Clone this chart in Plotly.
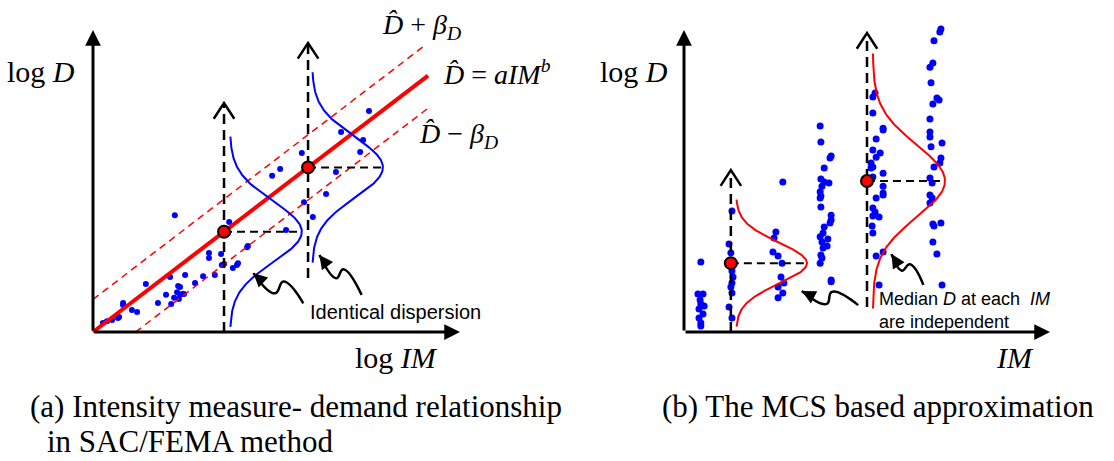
import numpy as np
import plotly.graph_objects as go

# ---------------- Panel (a): log IM – log D regression ----------------
a_pts_im = [0.27, 0.38, 0.52, 0.68, 0.71, 0.82, 0.82, 1.06, 1.20, 1.44, 1.77, 1.99,
            2.10, 2.23, 2.13, 2.21, 2.29, 2.32, 2.37, 2.37, 2.43, 2.48, 2.34, 2.51,
            2.78, 3.00, 3.16, 3.16, 3.32, 3.49, 3.51, 3.57, 3.71, 3.68, 3.81, 3.92,
            3.95, 4.22, 4.20, 4.88, 5.10, 5.26, 5.69, 5.75, 5.99, 6.35, 6.62, 6.76,
            7.28, 7.36, 7.52]
a_pts_d = [0.30, 0.36, 0.40, 0.46, 0.50, 0.96, 0.89, 0.73, 0.66, 1.59, 0.96, 1.23,
           1.82, 3.87, 0.93, 1.13, 1.32, 1.52, 1.49, 1.23, 1.26, 1.26, 1.09, 1.89,
           1.62, 1.85, 2.62, 2.45, 1.89, 2.58, 2.22, 2.25, 3.64, 3.28, 2.12, 2.22,
           2.28, 2.85, 2.81, 5.17, 5.40, 3.38, 5.93, 4.30, 3.81, 4.57, 5.30, 6.62,
           5.96, 6.36, 7.32]

a_slope = 0.93          # median line  log D = log a + b log IM
a_beta = 1.08           # dispersion band half-width
a_line_im = [0.0, 9.13]
a_upper_im = [0.0, 9.0]
a_lower_im = [1.16, 9.13]

a_stripe_im = [3.57, 5.86]       # IM levels where the distributions are drawn
a_stripe_bottom = [0.0, 1.79]
a_stripe_top = [7.58, 9.57]
a_hdash_end = [5.64, 7.87]
a_pdf_base = [3.73, 5.97]
a_pdf_peak = [1.96, 1.93]
a_pdf_sigma = [1.0, 1.0]
a_pdf_halfspan = [3.15, 3.15]

# wavy pointer paths (tail -> tip)
a_wave1_x = [5.73, 5.19, 4.96, 4.37]
a_wave1_y = [0.95, 1.67, 1.28, 1.95]
a_wave2_x = [7.32, 6.82, 6.63, 6.17]
a_wave2_y = [1.23, 2.08, 1.78, 2.55]

# ---------------- Panel (b): Monte Carlo samples per IM level ----------------
b_pts_im = [0.46, 0.38, 0.52, 0.44, 0.46, 0.55, 0.41, 0.52, 0.41, 0.46, 0.46,
            1.31, 1.23, 1.28, 1.31, 1.31, 1.34, 1.31, 1.28, 1.31, 1.23, 1.31,
            2.70, 2.51, 2.46, 2.43, 2.57, 2.68, 2.65, 2.73, 2.57, 2.70, 2.57,
            3.72, 3.74, 4.02, 3.99, 3.83, 3.74, 3.83, 3.96, 3.77, 3.72, 3.74, 3.72,
            3.74, 4.02, 4.02, 3.99, 3.83, 3.80, 3.72, 3.93, 3.77, 3.91, 3.80, 3.74,
            3.77, 3.72, 4.02, 4.02,
            5.22, 5.16, 5.16, 5.44, 5.44, 5.25, 5.16, 5.36, 5.25, 5.11, 5.16, 5.11,
            5.44, 5.16, 5.44, 5.44, 5.44, 5.25, 5.16, 5.22, 5.33, 5.16, 5.14, 5.16,
            5.44, 5.25, 5.33,
            7.02, 6.99, 6.83, 6.80, 6.72, 6.75, 6.91, 6.97, 6.80, 6.72, 6.72, 6.72,
            6.75, 7.05, 7.02, 6.99, 6.83, 6.72, 6.78, 6.72, 6.78, 6.72, 6.80, 7.02,
            6.83, 6.80, 6.91, 7.05]
b_pts_d = [2.32, 1.26, 1.26, 1.06, 0.93, 0.86, 0.76, 0.60, 0.46, 0.30, 0.20,
           4.01, 2.91, 2.62, 2.15, 2.02, 1.82, 1.62, 1.49, 1.29, 0.83, 0.46,
           4.97, 3.31, 3.11, 2.65, 2.52, 2.28, 1.82, 1.62, 1.49, 1.29, 1.13,
           6.82, 6.29, 5.83, 5.76, 5.43, 5.07, 4.97, 4.93, 4.83, 4.64, 4.50, 4.44,
           4.14, 3.87, 3.71, 3.61, 3.48, 3.28, 3.15, 3.08, 2.98, 2.85, 2.78, 2.55,
           2.45, 2.28, 1.72, 1.66,
           7.91, 7.78, 7.25, 6.75, 6.69, 6.39, 6.03, 5.93, 5.79, 5.60, 5.46, 5.43,
           5.26, 5.13, 4.83, 4.60, 4.54, 4.44, 4.11, 3.97, 3.81, 3.84, 3.51, 3.28,
           2.65, 2.52, 1.56,
           10.03, 9.93, 9.64, 8.91, 8.77, 8.25, 7.75, 7.68, 7.55, 7.05, 6.62, 6.46,
           6.13, 6.26, 5.76, 5.60, 5.46, 5.10, 4.93, 4.54, 4.44, 4.27, 3.58, 3.61,
           3.51, 2.98, 2.58, 1.56]

b_stripe_im = [1.28, 5.00]
b_median = [2.28, 5.00]
b_stripe_bottom = [0.0, 0.83]
b_stripe_top = [5.36, 9.90]
b_hdash_end = [3.31, 7.08]
b_pdf_base = [1.42, 5.16]
b_pdf_peak = [1.94, 1.97]
b_pdf_sigma = [0.68, 1.2]
b_pdf_halfspan = [2.1, 4.22]

b_wave1_x = [4.76, 4.04, 3.90, 3.22]
b_wave1_y = [0.89, 1.33, 0.93, 1.36]
b_wave2_x = [6.54, 6.17, 5.95, 5.67]
b_wave2_y = [1.56, 2.24, 2.03, 2.58]

AXIS_END = 10.0

# ---------------- layout geometry ----------------
W, H = 1114, 461
ORIGIN_PY, Y_SCALE = 332, 30.2
A_ORIGIN_PX, A_SCALE = 93, 36.7
B_ORIGIN_PX, B_SCALE = 684, 36.6
HALF = W / 2

y_range = [-(H - ORIGIN_PY) / Y_SCALE, ORIGIN_PY / Y_SCALE]
xa_range = [-A_ORIGIN_PX / A_SCALE, (HALF - A_ORIGIN_PX) / A_SCALE]
xb_range = [(HALF - B_ORIGIN_PX) / B_SCALE, (W - B_ORIGIN_PX) / B_SCALE]

BLUE = "#0000FF"
RED = "#FF0000"
SERIF = "Liberation Serif, Times New Roman, serif"
SANS = "Liberation Sans, Arial, sans-serif"
CHEVRON_HALF_W = 0.28   # open arrowhead size on the dashed stems (data units)
CHEVRON_H = 0.52

fig = go.Figure()


def add_line(x, y, xa, ya, color, width, dash=None, shape="linear"):
    fig.add_trace(go.Scatter(x=x, y=y, xaxis=xa, yaxis=ya, mode="lines",
                             line=dict(color=color, width=width, dash=dash, shape=shape,
                                       smoothing=1.3 if shape == "spline" else None),
                             hoverinfo="skip", showlegend=False))


def add_pdf(base, peak, center, sigma, halfspan, xa, ya, color):
    d = np.linspace(center - halfspan, center + halfspan, 200)
    x = base + peak * np.exp(-0.5 * ((d - center) / sigma) ** 2)
    add_line(x, d, xa, ya, color, 2)


def add_head(x, y, ax, ay, xa, ya, head, width, size, color="black"):
    fig.add_annotation(x=x, y=y, ax=ax, ay=ay, xref=xa, yref=ya, axref=xa, ayref=ya,
                       text="", showarrow=True, arrowhead=head, arrowwidth=width,
                       arrowsize=size, arrowcolor=color, standoff=0, startstandoff=0)


def add_text(x, y, text, xa, ya, size, family, xanchor="center", align="center"):
    fig.add_annotation(x=x, y=y, xref=xa, yref=ya, text=text, showarrow=False,
                       xanchor=xanchor, yanchor="middle", align=align,
                       font=dict(size=size, family=family, color="black"))


def add_wave(wx, wy, xa, ya):
    add_line(wx, wy, xa, ya, "black", 2.5, shape="spline")
    # arrowhead along the last segment
    t = 0.35
    bx = wx[-1] + (wx[-2] - wx[-1]) * t
    by = wy[-1] + (wy[-2] - wy[-1]) * t
    add_head(wx[-1], wy[-1], bx, by, xa, ya, 2, 2.5, 1.1)


def add_stripe(x, bottom, top, xa, ya):
    add_line([x, x], [bottom, top - 0.05], xa, ya, "black", 2.5, "10px,6px")
    # open "^" arrowhead
    add_line([x - CHEVRON_HALF_W, x, x + CHEVRON_HALF_W],
             [top - CHEVRON_H, top, top - CHEVRON_H], xa, ya, "black", 2.5)


# ===== panel (a) =====
fig.add_trace(go.Scatter(x=a_pts_im, y=a_pts_d, xaxis="x", yaxis="y", mode="markers",
                         marker=dict(color=BLUE, size=6), hoverinfo="skip", showlegend=False))

add_line(a_upper_im, [a_slope * v + a_beta for v in a_upper_im], "x", "y", RED, 1.5, "7px,5px")
add_line(a_lower_im, [a_slope * v - a_beta for v in a_lower_im], "x", "y", RED, 1.5, "7px,5px")
add_line(a_line_im, [a_slope * v for v in a_line_im], "x", "y", RED, 4)

for i in range(2):
    med = a_slope * a_stripe_im[i]
    add_pdf(a_pdf_base[i], a_pdf_peak[i], med, a_pdf_sigma[i], a_pdf_halfspan[i], "x", "y", BLUE)
    add_stripe(a_stripe_im[i], a_stripe_bottom[i], a_stripe_top[i], "x", "y")
    add_line([a_stripe_im[i], a_hdash_end[i]], [med, med], "x", "y", "black", 2, "8px,5px")

fig.add_trace(go.Scatter(x=a_stripe_im, y=[a_slope * v for v in a_stripe_im], xaxis="x", yaxis="y",
                         mode="markers", marker=dict(color=RED, size=12, line=dict(color="black", width=2)),
                         hoverinfo="skip", showlegend=False))

add_wave(a_wave1_x, a_wave1_y, "x", "y")
add_wave(a_wave2_x, a_wave2_y, "x", "y")

# axes arrows
add_head(AXIS_END, 0, 0, 0, "x", "y", 2, 3, 1.05)
add_head(0, AXIS_END, 0, 0, "x", "y", 2, 3, 1.05)

add_text(-1.42, 8.61, "log <i>D</i>", "x", "y", 30, SERIF)
add_text(8.26, -0.83, "log <i>IM</i>", "x", "y", 30, SERIF)
add_text(8.96, 10.13, "<i>D\u0302</i> + <i>β</i><sub><i>D</i></sub>", "x", "y", 28, SERIF)
add_text(11.0, 8.58, "<i>D\u0302</i> = <i>aIM</i><sup><i>b</i></sup>", "x", "y", 28, SERIF)
add_text(9.95, 6.52, "<i>D\u0302</i> − <i>β</i><sub><i>D</i></sub>", "x", "y", 28, SERIF)
add_text(5.86, 0.66, "Identical dispersion", "x", "y", 20, SANS, xanchor="left")

# ===== panel (b) =====
fig.add_trace(go.Scatter(x=b_pts_im, y=b_pts_d, xaxis="x2", yaxis="y2", mode="markers",
                         marker=dict(color=BLUE, size=7), hoverinfo="skip", showlegend=False))

for i in range(2):
    add_pdf(b_pdf_base[i], b_pdf_peak[i], b_median[i], b_pdf_sigma[i], b_pdf_halfspan[i],
            "x2", "y2", RED)
    add_stripe(b_stripe_im[i], b_stripe_bottom[i], b_stripe_top[i], "x2", "y2")
    add_line([b_stripe_im[i], b_hdash_end[i]], [b_median[i]] * 2, "x2", "y2", "black", 2, "8px,5px")

fig.add_trace(go.Scatter(x=b_stripe_im, y=b_median, xaxis="x2", yaxis="y2", mode="markers",
                         marker=dict(color=RED, size=12, line=dict(color="black", width=2)),
                         hoverinfo="skip", showlegend=False))

add_wave(b_wave1_x, b_wave1_y, "x2", "y2")
add_wave(b_wave2_x, b_wave2_y, "x2", "y2")

add_head(AXIS_END, 0, 0, 0, "x2", "y2", 2, 3, 1.05)
add_head(0, AXIS_END, 0, 0, "x2", "y2", 2, 3, 1.05)

add_text(-1.37, 8.61, "log <i>D</i>", "x2", "y2", 30, SERIF)
add_text(9.04, -0.83, "<i>IM</i>", "x2", "y2", 30, SERIF)
add_text(5.27, 0.70, "Median <i>D</i> at each\u00a0 <i>IM</i><br>are independent", "x2", "y2",
         18, SANS, xanchor="left", align="left")

# ===== captions =====
for x, y, t in ((28, 406, "(a) Intensity measure- demand relationship"),
                (45, 441, "in SAC/FEMA method"),
                (660, 406, "(b) The MCS based approximation")):
    fig.add_annotation(x=x / W, y=1 - y / H, xref="paper", yref="paper", text=t,
                       showarrow=False, xanchor="left", yanchor="middle",
                       font=dict(size=31, family=SERIF, color="black"))

hidden = dict(visible=False, fixedrange=True)
fig.update_layout(
    width=W, height=H, margin=dict(l=0, r=0, t=0, b=0),
    paper_bgcolor="white", plot_bgcolor="white", showlegend=False,
    xaxis=dict(domain=[0, 0.5], range=xa_range, anchor="y", **hidden),
    yaxis=dict(domain=[0, 1], range=y_range, anchor="x", **hidden),
    xaxis2=dict(domain=[0.5, 1], range=xb_range, anchor="y2", **hidden),
    yaxis2=dict(domain=[0, 1], range=y_range, anchor="x2", **hidden),
)

fig.write_html("out.html")
